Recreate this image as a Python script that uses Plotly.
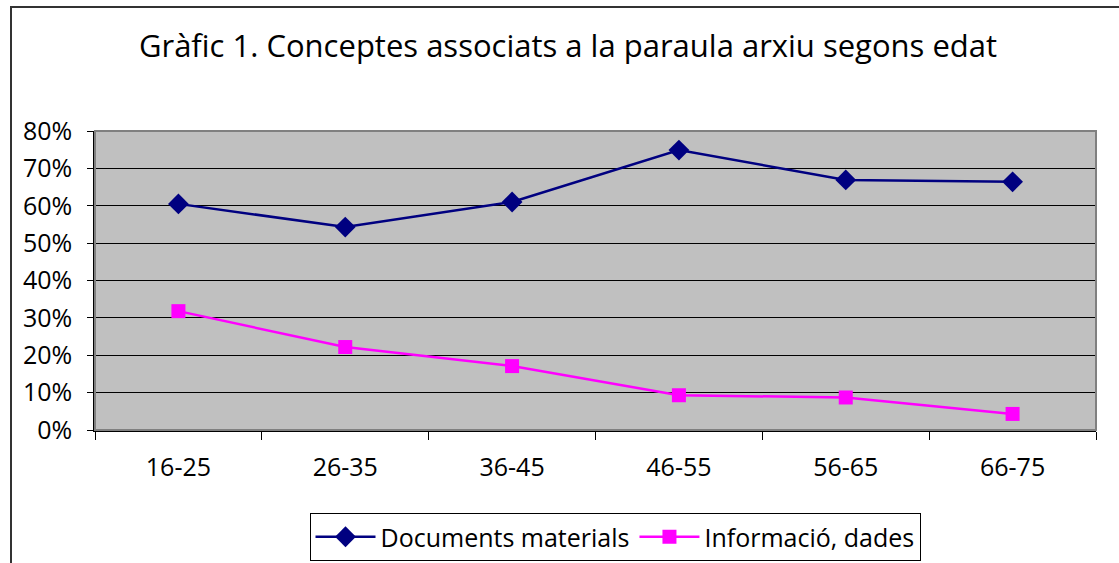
import plotly.graph_objects as go

categories = ["16-25", "26-35", "36-45", "46-55", "56-65", "66-75"]
documents = [0.605, 0.543, 0.61, 0.749, 0.669, 0.664]
informacio = [0.318, 0.222, 0.171, 0.093, 0.087, 0.043]
y_ticks = [0, 0.1, 0.2, 0.3, 0.4, 0.5, 0.6, 0.7, 0.8]
y_labels = ["0%", "10%", "20%", "30%", "40%", "50%", "60%", "70%", "80%"]

FONT = "Open Sans"

fig = go.Figure()
fig.add_trace(go.Scatter(
    x=categories, y=documents, name="Documents materials", mode="lines+markers",
    line=dict(color="#000080", width=2.5),
    marker=dict(symbol="diamond", size=16, color="#000080"),
))
fig.add_trace(go.Scatter(
    x=categories, y=informacio, name="Informació, dades", mode="lines+markers",
    line=dict(color="#FF00FF", width=2.5),
    marker=dict(symbol="square", size=14, color="#FF00FF"),
))

L, R, T, B = 95, 23, 131, 133
W, H = 1119, 563
pw, ph = W - L - R, H - T - B

def px(x):
    return (x - L) / pw

def py(y):
    return (H - B - y) / ph

shapes = [
    dict(type="rect", xref="paper", yref="paper", x0=0, x1=1, y0=0, y1=1,
         line=dict(color="#808080", width=2), layer="above"),
    dict(type="path", xref="paper", yref="paper",
         path=f"M {px(11)} {py(570)} L {px(11)} {py(7)} L {px(1125)} {py(7)}",
         line=dict(color="#333333", width=2)),
]

fig.update_layout(
    width=W, height=H,
    margin=dict(l=L, r=R, t=T, b=B),
    paper_bgcolor="white",
    plot_bgcolor="#C0C0C0",
    font=dict(family=FONT, size=25, color="#000000"),
    title=dict(text="Gràfic 1. Conceptes associats a la paraula arxiu segons edat",
               xref="container", x=568 / W, xanchor="center",
               yref="container", y=1 - 46 / H, yanchor="middle",
               font=dict(family=FONT, size=31, color="#000000")),
    showlegend=True,
    legend=dict(orientation="h", xref="container", x=615 / W, xanchor="center",
                yref="container", y=1 - 513 / H, yanchor="top",
                bordercolor="#000000", borderwidth=1, bgcolor="white",
                font=dict(family=FONT, size=25), itemwidth=60, tracegroupgap=0),
    shapes=shapes,
    xaxis=dict(type="category", range=[-0.5, 5.5], tickson="boundaries",
               ticks="outside", ticklen=8, tickcolor="#000000", tickwidth=1,
               showline=True, linecolor="#000000", linewidth=1.5,
               showgrid=False, ticklabelstandoff=14, tickfont=dict(size=25)),
    yaxis=dict(range=[0, 0.8], tickvals=y_ticks, ticktext=y_labels,
               ticks="outside", ticklen=6, tickcolor="#000000", tickwidth=1,
               showline=True, linecolor="#000000", linewidth=1.5,
               showgrid=True, gridcolor="#000000", gridwidth=1,
               zeroline=False, ticklabelstandoff=10, tickfont=dict(size=25)),
)

post = (
    "document.documentElement.style.overflow='hidden';"
    "document.body.style.margin='0';"
    "document.body.style.overflow='hidden';"
    "document.body.style.height='563px';"
)
fig.write_html("out.html", config={"displayModeBar": False}, post_script=post)
